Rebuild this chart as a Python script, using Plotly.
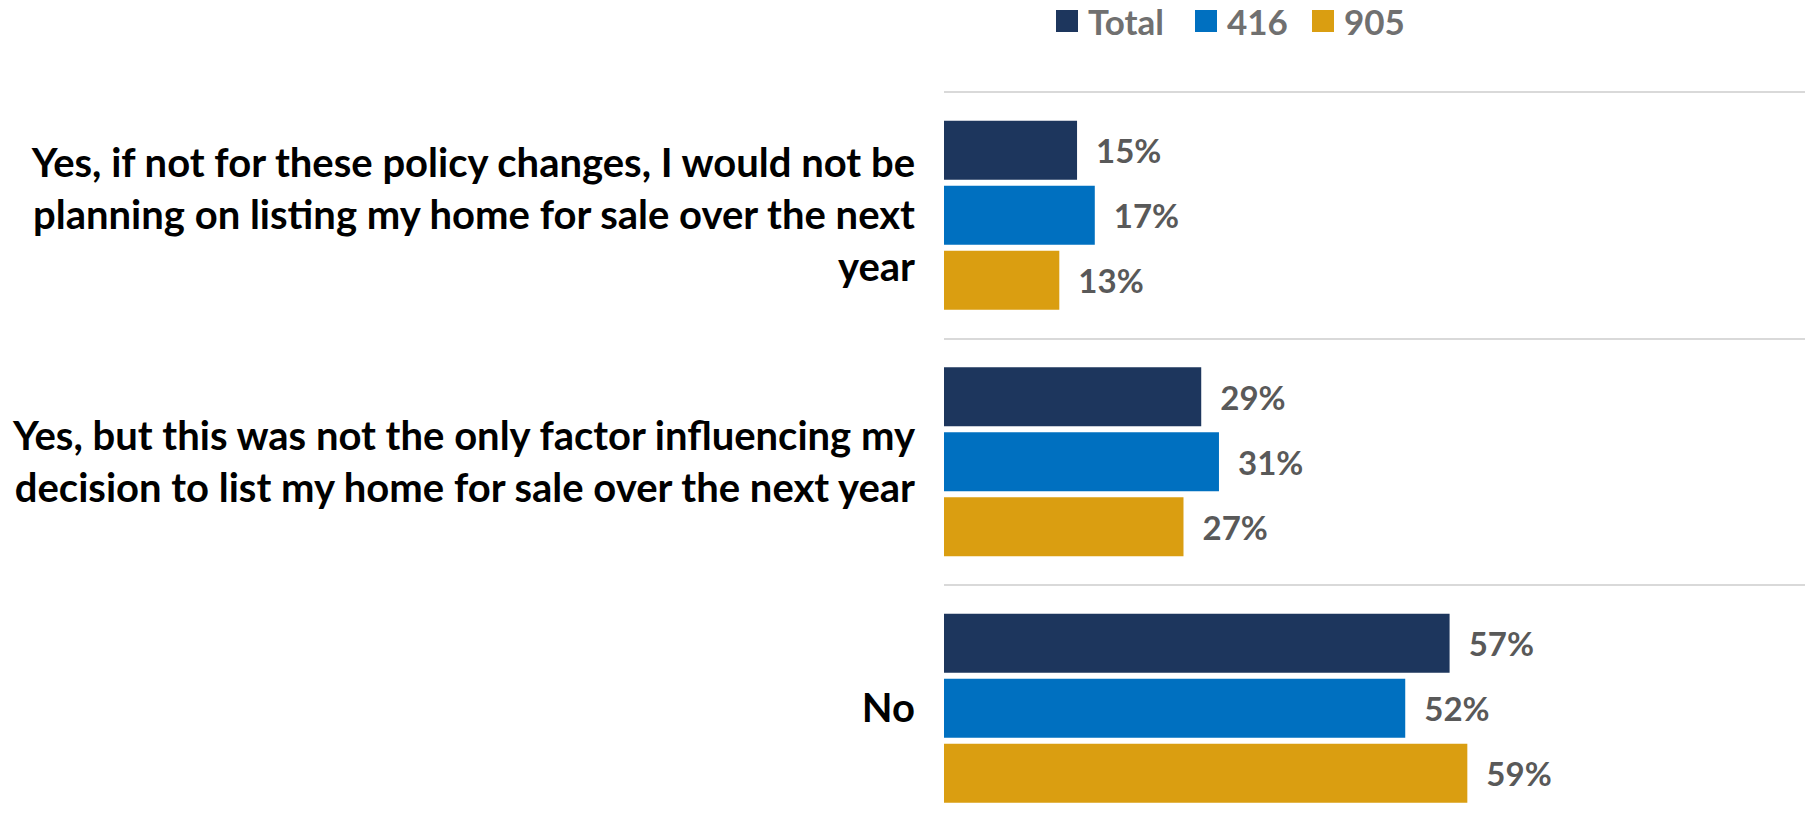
import plotly.graph_objects as go

categories = [
    "Yes, if not for these policy changes, I would not be<br>planning on listing my home for sale over the next<br>year",
    "Yes, but this was not the only factor influencing my<br>decision to list my home for sale over the next year",
    "No",
]
series_names = ["Total", "416", "905"]
total_vals = [15, 29, 57]
v416_vals = [17, 31, 52]
v905_vals = [13, 27, 59]
series_values = [total_vals, v416_vals, v905_vals]
colors = ["#1D365D", "#0070C0", "#DA9E11"]

W, H = 1805, 826
ML, MT = 944, 90
PW, PH = W - ML, H - MT
PX_PER_PCT = 8.87
CAT_PX = 246.5

FONT = "Lato"

fig = go.Figure()
for name, vals, col in zip(series_names, series_values, colors):
    fig.add_trace(go.Bar(
        y=categories, x=vals, name=name, orientation="h",
        marker=dict(color=col, line=dict(width=0)),
        text=[f"\u00a0\u00a0{v}%" for v in vals],
        textposition="outside",
        textfont=dict(family=FONT, size=33, color="#595959", weight="bold"),
        cliponaxis=False,
        showlegend=False,
    ))

top = -0.5 - 2 / CAT_PX
bottom = top + PH / CAT_PX

fig.update_layout(
    width=W, height=H,
    margin=dict(l=ML, r=0, t=MT, b=0, pad=0),
    paper_bgcolor="white", plot_bgcolor="white",
    barmode="group", bargap=0.209, bargroupgap=0.0923,
    xaxis=dict(range=[0, PW / PX_PER_PCT], showgrid=False, zeroline=False,
               showticklabels=False, showline=False, ticks=""),
    yaxis=dict(type="category", categoryorder="array", categoryarray=categories,
               range=[bottom, top], tickson="boundaries", showgrid=True,
               gridcolor="#D9D9D9", gridwidth=1.5, ticks="", showline=False,
               zeroline=False, ticklabelstandoff=28,
               tickfont=dict(family=FONT, size=40, color="#000000", weight="bold")),
)

# manual legend (pixel positions converted to paper coords)
leg_marker_x = [1056, 1195, 1312]
leg_size = 22
leg_top = 10
for name, col, mx in zip(series_names, colors, leg_marker_x):
    x0 = (mx - ML) / PW
    x1 = (mx + leg_size - ML) / PW
    y1 = (H - leg_top) / PH
    y0 = (H - leg_top - leg_size) / PH
    fig.add_shape(type="rect", xref="paper", yref="paper", x0=x0, x1=x1, y0=y0, y1=y1,
                  fillcolor=col, line=dict(width=0))
    fig.add_annotation(xref="paper", yref="paper", x=(mx + leg_size + 8 - ML) / PW,
                       y=(H - leg_top - leg_size / 2) / PH, text=name, showarrow=False,
                       xanchor="left", yanchor="middle",
                       font=dict(family=FONT, size=35, color="#707070", weight="bold"))

fig.write_html("out.html", config={"displayModeBar": False},
               post_script="document.body.style.margin='0px';document.body.style.overflow='hidden';")
